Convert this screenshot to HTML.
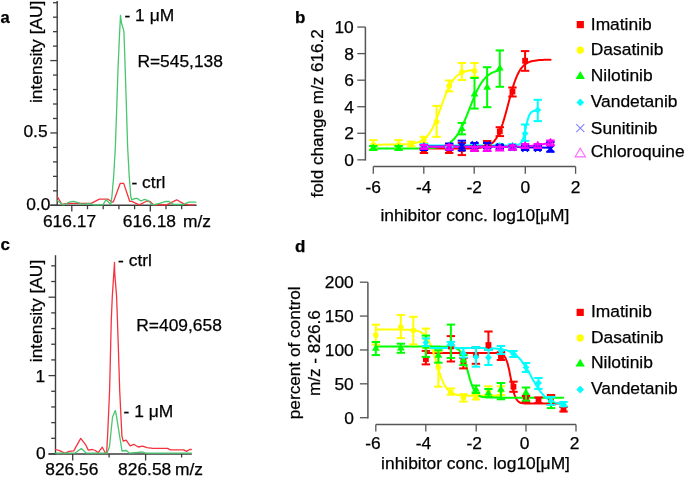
<!DOCTYPE html>
<html><head><meta charset="utf-8"><style>
html,body{margin:0;padding:0;background:#fff;overflow:hidden;}
svg{display:block;will-change:transform;}
text{font-family:"Liberation Sans", sans-serif;stroke:#000;stroke-width:0.25px;}
</style></head><body>
<svg width="685" height="477" viewBox="0 0 685 477">
<rect width="685" height="477" fill="#fff"/>
<text x="0.6" y="23.1" font-size="16.5" font-weight="bold" fill="#000">a</text>
<line x1="57.20" y1="1.00" x2="57.20" y2="205.60" stroke="#3c3c3c" stroke-width="1.4" stroke-linecap="butt"/>
<line x1="50.30" y1="205.30" x2="57.20" y2="205.30" stroke="#3c3c3c" stroke-width="1.3" stroke-linecap="butt"/>
<line x1="53.00" y1="190.83" x2="57.20" y2="190.83" stroke="#3c3c3c" stroke-width="1.3" stroke-linecap="butt"/>
<line x1="53.00" y1="176.36" x2="57.20" y2="176.36" stroke="#3c3c3c" stroke-width="1.3" stroke-linecap="butt"/>
<line x1="53.00" y1="161.89" x2="57.20" y2="161.89" stroke="#3c3c3c" stroke-width="1.3" stroke-linecap="butt"/>
<line x1="53.00" y1="147.42" x2="57.20" y2="147.42" stroke="#3c3c3c" stroke-width="1.3" stroke-linecap="butt"/>
<line x1="50.30" y1="132.95" x2="57.20" y2="132.95" stroke="#3c3c3c" stroke-width="1.3" stroke-linecap="butt"/>
<line x1="53.00" y1="118.48" x2="57.20" y2="118.48" stroke="#3c3c3c" stroke-width="1.3" stroke-linecap="butt"/>
<line x1="53.00" y1="104.01" x2="57.20" y2="104.01" stroke="#3c3c3c" stroke-width="1.3" stroke-linecap="butt"/>
<line x1="53.00" y1="89.54" x2="57.20" y2="89.54" stroke="#3c3c3c" stroke-width="1.3" stroke-linecap="butt"/>
<line x1="53.00" y1="75.07" x2="57.20" y2="75.07" stroke="#3c3c3c" stroke-width="1.3" stroke-linecap="butt"/>
<line x1="50.30" y1="60.60" x2="57.20" y2="60.60" stroke="#3c3c3c" stroke-width="1.3" stroke-linecap="butt"/>
<line x1="53.00" y1="46.13" x2="57.20" y2="46.13" stroke="#3c3c3c" stroke-width="1.3" stroke-linecap="butt"/>
<line x1="53.00" y1="31.66" x2="57.20" y2="31.66" stroke="#3c3c3c" stroke-width="1.3" stroke-linecap="butt"/>
<line x1="53.00" y1="17.19" x2="57.20" y2="17.19" stroke="#3c3c3c" stroke-width="1.3" stroke-linecap="butt"/>
<line x1="53.00" y1="2.72" x2="57.20" y2="2.72" stroke="#3c3c3c" stroke-width="1.3" stroke-linecap="butt"/>
<line x1="50.30" y1="205.30" x2="196.60" y2="205.30" stroke="#3c3c3c" stroke-width="1.4" stroke-linecap="butt"/>
<line x1="71.80" y1="205.30" x2="71.80" y2="211.60" stroke="#3c3c3c" stroke-width="1.3" stroke-linecap="butt"/>
<line x1="87.50" y1="205.30" x2="87.50" y2="209.30" stroke="#3c3c3c" stroke-width="1.3" stroke-linecap="butt"/>
<line x1="103.20" y1="205.30" x2="103.20" y2="209.30" stroke="#3c3c3c" stroke-width="1.3" stroke-linecap="butt"/>
<line x1="118.90" y1="205.30" x2="118.90" y2="209.30" stroke="#3c3c3c" stroke-width="1.3" stroke-linecap="butt"/>
<line x1="134.60" y1="205.30" x2="134.60" y2="209.30" stroke="#3c3c3c" stroke-width="1.3" stroke-linecap="butt"/>
<line x1="150.30" y1="205.30" x2="150.30" y2="211.60" stroke="#3c3c3c" stroke-width="1.3" stroke-linecap="butt"/>
<line x1="166.00" y1="205.30" x2="166.00" y2="209.30" stroke="#3c3c3c" stroke-width="1.3" stroke-linecap="butt"/>
<line x1="181.70" y1="205.30" x2="181.70" y2="209.30" stroke="#3c3c3c" stroke-width="1.3" stroke-linecap="butt"/>
<text x="23.4" y="137.4" font-size="17.4" fill="#000">0.5</text>
<text x="26.2" y="209.8" font-size="17.4" fill="#000">0.0</text>
<text x="42.95" y="226.5" font-size="17.4" fill="#000">616.17</text>
<text x="122.85" y="226.5" font-size="17.4" fill="#000">616.18</text>
<text x="183.0" y="226.5" font-size="17.4" fill="#000">m/z</text>
<text x="42.0" y="103" font-size="17.4" fill="#000" transform="rotate(-90 42.0 103)">intensity [AU]</text>
<text x="124.5" y="21.0" font-size="17.4" fill="#000">- 1 μM</text>
<text x="137.4" y="67.3" font-size="17.4" fill="#000">R=545,138</text>
<text x="131.5" y="188.4" font-size="17.4" fill="#000">- ctrl</text>
<polyline points="57.60,197.10 62.00,204.50 67.60,203.40 91.20,203.40 99.40,199.20 108.10,199.20 112.20,202.10 113.40,201.80 120.20,183.40 123.70,183.40 129.70,201.30 131.70,201.30 139.30,204.80 146.90,201.00 149.80,201.30 153.30,204.80 158.50,204.50 166.70,204.80 176.70,199.80 183.70,203.90 188.90,204.80 194.80,204.80" fill="none" stroke="#f5333f" stroke-width="1.3" stroke-linejoin="round" stroke-linecap="round"/>
<polyline points="57.50,200.60 62.60,204.80 64.30,204.70 69.00,202.20 73.70,201.30 78.00,202.60 81.90,204.10 85.00,204.20 88.90,203.50 93.50,204.80 102.90,204.80 106.00,199.80 110.80,204.50 111.90,196.70 113.70,176.00 115.40,146.00 117.00,100.00 118.00,69.00 119.50,35.00 120.50,15.30 121.40,22.60 123.90,31.40 124.50,48.00 125.20,69.00 126.20,100.00 127.60,146.00 129.20,176.00 130.80,196.70 131.70,199.80 135.20,198.30 137.50,198.50 141.00,201.00 144.50,199.40 148.00,200.60 152.10,204.60 155.00,204.50 159.70,203.30 166.10,201.30 169.00,201.50 173.70,204.50 183.10,204.50 188.90,202.10 195.90,202.10" fill="none" stroke="#47c66e" stroke-width="1.3" stroke-linejoin="round" stroke-linecap="round"/>
<text x="0.4" y="250" font-size="17" font-weight="bold" fill="#000">c</text>
<line x1="55.50" y1="255.20" x2="55.50" y2="454.30" stroke="#3c3c3c" stroke-width="1.4" stroke-linecap="butt"/>
<line x1="48.50" y1="454.00" x2="55.50" y2="454.00" stroke="#3c3c3c" stroke-width="1.3" stroke-linecap="butt"/>
<line x1="51.20" y1="438.32" x2="55.50" y2="438.32" stroke="#3c3c3c" stroke-width="1.3" stroke-linecap="butt"/>
<line x1="51.20" y1="422.64" x2="55.50" y2="422.64" stroke="#3c3c3c" stroke-width="1.3" stroke-linecap="butt"/>
<line x1="51.20" y1="406.96" x2="55.50" y2="406.96" stroke="#3c3c3c" stroke-width="1.3" stroke-linecap="butt"/>
<line x1="51.20" y1="391.28" x2="55.50" y2="391.28" stroke="#3c3c3c" stroke-width="1.3" stroke-linecap="butt"/>
<line x1="48.50" y1="375.60" x2="55.50" y2="375.60" stroke="#3c3c3c" stroke-width="1.3" stroke-linecap="butt"/>
<line x1="51.20" y1="359.92" x2="55.50" y2="359.92" stroke="#3c3c3c" stroke-width="1.3" stroke-linecap="butt"/>
<line x1="51.20" y1="344.24" x2="55.50" y2="344.24" stroke="#3c3c3c" stroke-width="1.3" stroke-linecap="butt"/>
<line x1="51.20" y1="328.56" x2="55.50" y2="328.56" stroke="#3c3c3c" stroke-width="1.3" stroke-linecap="butt"/>
<line x1="51.20" y1="312.88" x2="55.50" y2="312.88" stroke="#3c3c3c" stroke-width="1.3" stroke-linecap="butt"/>
<line x1="48.50" y1="297.20" x2="55.50" y2="297.20" stroke="#3c3c3c" stroke-width="1.3" stroke-linecap="butt"/>
<line x1="51.20" y1="281.52" x2="55.50" y2="281.52" stroke="#3c3c3c" stroke-width="1.3" stroke-linecap="butt"/>
<line x1="51.20" y1="265.84" x2="55.50" y2="265.84" stroke="#3c3c3c" stroke-width="1.3" stroke-linecap="butt"/>
<line x1="48.50" y1="454.00" x2="191.80" y2="454.00" stroke="#3c3c3c" stroke-width="1.4" stroke-linecap="butt"/>
<line x1="72.70" y1="454.00" x2="72.70" y2="460.50" stroke="#3c3c3c" stroke-width="1.3" stroke-linecap="butt"/>
<line x1="109.10" y1="454.00" x2="109.10" y2="457.50" stroke="#3c3c3c" stroke-width="1.3" stroke-linecap="butt"/>
<line x1="145.60" y1="454.00" x2="145.60" y2="460.50" stroke="#3c3c3c" stroke-width="1.3" stroke-linecap="butt"/>
<line x1="181.60" y1="454.00" x2="181.60" y2="457.50" stroke="#3c3c3c" stroke-width="1.3" stroke-linecap="butt"/>
<text x="35.6" y="382" font-size="17.4" fill="#000">1</text>
<text x="35.9" y="458.7" font-size="17.4" fill="#000">0</text>
<text x="45.25" y="474.7" font-size="17.4" fill="#000">826.56</text>
<text x="118.1" y="474.7" font-size="17.4" fill="#000">826.58</text>
<text x="174.95" y="474.7" font-size="17.4" fill="#000">m/z</text>
<text x="41.7" y="362.2" font-size="17.4" fill="#000" transform="rotate(-90 41.7 362.2)">intensity [AU]</text>
<text x="118.1" y="266" font-size="17.4" fill="#000">- ctrl</text>
<text x="123.6" y="417.2" font-size="17.4" fill="#000">- 1 μM</text>
<text x="136.25" y="331.2" font-size="17.4" fill="#000">R=409,658</text>
<polyline points="55.60,449.50 59.70,450.70 64.90,453.40 69.00,451.30 73.70,450.90 80.70,438.40 85.40,444.30 88.30,450.10 92.40,449.50 95.30,450.50 98.20,452.70 102.30,447.20 105.20,452.80 106.60,453.00 107.60,435.80 109.60,390.40 110.80,340.00 111.30,319.20 112.30,296.50 114.50,262.50 114.70,272.90 116.60,296.50 117.40,319.20 118.10,340.00 119.70,390.40 121.90,435.80 123.20,441.20 126.20,440.20 130.10,445.80 133.80,444.30 138.20,447.00 142.60,446.10 147.00,447.60 152.90,448.40 167.50,448.40 170.50,449.90 183.70,449.90 186.60,451.40 189.60,449.50 191.30,449.50" fill="none" stroke="#f5333f" stroke-width="1.3" stroke-linejoin="round" stroke-linecap="round"/>
<polyline points="55.60,453.20 74.90,453.20 81.30,448.40 86.50,453.20 107.00,453.20 109.50,446.50 112.50,417.20 114.00,413.50 115.40,410.60 116.40,415.70 119.10,432.60 122.00,451.00 126.40,450.50 129.40,453.20 142.60,452.00 145.50,453.20 191.30,453.20" fill="none" stroke="#47c66e" stroke-width="1.3" stroke-linejoin="round" stroke-linecap="round"/>
<text x="294.9" y="23.4" font-size="17" font-weight="bold" fill="#000">b</text>
<line x1="365.40" y1="27.05" x2="365.40" y2="160.55" stroke="#555555" stroke-width="1.5" stroke-linecap="butt"/>
<line x1="357.30" y1="159.85" x2="365.40" y2="159.85" stroke="#555555" stroke-width="1.3" stroke-linecap="butt"/>
<text x="353.8" y="165.85" font-size="17.4" text-anchor="end" fill="#000">0</text>
<line x1="357.30" y1="133.29" x2="365.40" y2="133.29" stroke="#555555" stroke-width="1.3" stroke-linecap="butt"/>
<text x="353.8" y="139.29" font-size="17.4" text-anchor="end" fill="#000">2</text>
<line x1="357.30" y1="106.73" x2="365.40" y2="106.73" stroke="#555555" stroke-width="1.3" stroke-linecap="butt"/>
<text x="353.8" y="112.72999999999999" font-size="17.4" text-anchor="end" fill="#000">4</text>
<line x1="357.30" y1="80.17" x2="365.40" y2="80.17" stroke="#555555" stroke-width="1.3" stroke-linecap="butt"/>
<text x="353.8" y="86.17" font-size="17.4" text-anchor="end" fill="#000">6</text>
<line x1="357.30" y1="53.61" x2="365.40" y2="53.61" stroke="#555555" stroke-width="1.3" stroke-linecap="butt"/>
<text x="353.8" y="59.61" font-size="17.4" text-anchor="end" fill="#000">8</text>
<line x1="357.30" y1="27.05" x2="365.40" y2="27.05" stroke="#555555" stroke-width="1.3" stroke-linecap="butt"/>
<text x="353.8" y="33.05000000000001" font-size="17.4" text-anchor="end" fill="#000">10</text>
<line x1="373.30" y1="166.60" x2="575.60" y2="166.60" stroke="#555555" stroke-width="1.5" stroke-linecap="butt"/>
<line x1="373.30" y1="166.60" x2="373.30" y2="173.80" stroke="#555555" stroke-width="1.3" stroke-linecap="butt"/>
<text x="373.3" y="193" font-size="17.4" text-anchor="middle" fill="#000">-6</text>
<line x1="423.80" y1="166.60" x2="423.80" y2="173.80" stroke="#555555" stroke-width="1.3" stroke-linecap="butt"/>
<text x="423.8" y="193" font-size="17.4" text-anchor="middle" fill="#000">-4</text>
<line x1="474.20" y1="166.60" x2="474.20" y2="173.80" stroke="#555555" stroke-width="1.3" stroke-linecap="butt"/>
<text x="474.2" y="193" font-size="17.4" text-anchor="middle" fill="#000">-2</text>
<line x1="525.30" y1="166.60" x2="525.30" y2="173.80" stroke="#555555" stroke-width="1.3" stroke-linecap="butt"/>
<text x="525.3" y="193" font-size="17.4" text-anchor="middle" fill="#000">0</text>
<line x1="575.60" y1="166.60" x2="575.60" y2="173.80" stroke="#555555" stroke-width="1.3" stroke-linecap="butt"/>
<text x="575.6" y="193" font-size="17.4" text-anchor="middle" fill="#000">2</text>
<text x="323.4" y="197.4" font-size="17.1" fill="#000" transform="rotate(-90 323.4 197.4)">fold change m/z 616.2</text>
<text x="380.5" y="221.2" font-size="17.4" fill="#000">inhibitor conc. log10[μM]</text>
<polyline points="424.10,148.49 425.70,148.49 427.30,148.49 428.90,148.49 430.51,148.49 432.11,148.49 433.71,148.49 435.31,148.49 436.91,148.49 438.51,148.49 440.11,148.49 441.71,148.49 443.32,148.49 444.92,148.49 446.52,148.49 448.12,148.49 449.72,148.49 451.32,148.48 452.92,148.48 454.52,148.48 456.13,148.48 457.73,148.47 459.33,148.47 460.93,148.46 462.53,148.46 464.13,148.44 465.73,148.43 467.33,148.41 468.94,148.39 470.54,148.35 472.14,148.31 473.74,148.25 475.34,148.18 476.94,148.08 478.54,147.95 480.14,147.78 481.75,147.55 483.35,147.26 484.95,146.88 486.55,146.38 488.15,145.73 489.75,144.90 491.35,143.82 492.95,142.45 494.56,140.70 496.16,138.51 497.76,135.81 499.36,132.52 500.96,128.60 502.56,124.04 504.16,118.88 505.76,113.24 507.37,107.26 508.97,101.17 510.57,95.19 512.17,89.52 513.77,84.34 515.37,79.76 516.97,75.81 518.57,72.49 520.18,69.77 521.78,67.56 523.38,65.80 524.98,64.41 526.58,63.32 528.18,62.48 529.78,61.82 531.38,61.32 532.99,60.93 534.59,60.64 536.19,60.41 537.79,60.24 539.39,60.11 540.99,60.01 542.59,59.93 544.19,59.87 545.80,59.83 547.40,59.80 549.00,59.77 550.60,59.75" fill="none" stroke="#ff0000" stroke-width="2.0" stroke-linejoin="round" stroke-linecap="round"/>
<polyline points="373.50,144.64 374.78,144.64 376.06,144.64 377.34,144.63 378.62,144.63 379.91,144.63 381.19,144.63 382.47,144.63 383.75,144.62 385.03,144.62 386.31,144.62 387.59,144.61 388.87,144.61 390.15,144.60 391.43,144.59 392.72,144.58 394.00,144.57 395.28,144.55 396.56,144.54 397.84,144.52 399.12,144.49 400.40,144.46 401.68,144.42 402.96,144.37 404.24,144.32 405.53,144.25 406.81,144.17 408.09,144.08 409.37,143.96 410.65,143.82 411.93,143.65 413.21,143.44 414.49,143.20 415.77,142.90 417.05,142.55 418.34,142.12 419.62,141.62 420.90,141.02 422.18,140.30 423.46,139.46 424.74,138.46 426.02,137.30 427.30,135.94 428.58,134.37 429.86,132.56 431.15,130.51 432.43,128.20 433.71,125.63 434.99,122.80 436.27,119.75 437.55,116.49 438.83,113.07 440.11,109.54 441.39,105.98 442.67,102.43 443.96,98.96 445.24,95.63 446.52,92.48 447.80,89.56 449.08,86.88 450.36,84.47 451.64,82.31 452.92,80.40 454.20,78.74 455.48,77.30 456.77,76.05 458.05,74.99 459.33,74.09 460.61,73.32 461.89,72.67 463.17,72.13 464.45,71.68 465.73,71.30 467.01,70.98 468.29,70.71 469.58,70.49 470.86,70.31 472.14,70.16 473.42,70.03 474.70,69.93" fill="none" stroke="#ffff00" stroke-width="2.0" stroke-linejoin="round" stroke-linecap="round"/>
<polyline points="373.50,148.57 375.10,148.57 376.70,148.57 378.30,148.57 379.91,148.57 381.51,148.57 383.11,148.57 384.71,148.57 386.31,148.57 387.91,148.57 389.51,148.57 391.11,148.57 392.72,148.57 394.32,148.57 395.92,148.56 397.52,148.56 399.12,148.56 400.72,148.56 402.32,148.56 403.92,148.55 405.53,148.55 407.13,148.54 408.73,148.54 410.33,148.53 411.93,148.52 413.53,148.51 415.13,148.50 416.73,148.48 418.34,148.46 419.94,148.44 421.54,148.41 423.14,148.37 424.74,148.32 426.34,148.27 427.94,148.20 429.54,148.11 431.15,148.01 432.75,147.88 434.35,147.73 435.95,147.53 437.55,147.30 439.15,147.01 440.75,146.66 442.35,146.24 443.96,145.72 445.56,145.10 447.16,144.34 448.76,143.43 450.36,142.35 451.96,141.05 453.56,139.52 455.16,137.72 456.77,135.64 458.37,133.24 459.97,130.51 461.57,127.46 463.17,124.10 464.77,120.45 466.37,116.58 467.97,112.55 469.58,108.43 471.18,104.32 472.78,100.30 474.38,96.45 475.98,92.83 477.58,89.50 479.18,86.48 480.78,83.79 482.39,81.42 483.99,79.36 485.59,77.59 487.19,76.08 488.79,74.81 490.39,73.74 491.99,72.85 493.59,72.11 495.20,71.49 496.80,70.99 498.40,70.57 500.00,70.23" fill="none" stroke="#00ff00" stroke-width="2.0" stroke-linejoin="round" stroke-linecap="round"/>
<polyline points="424.10,145.60 425.54,145.60 426.98,145.60 428.42,145.60 429.86,145.60 431.31,145.60 432.75,145.60 434.19,145.60 435.63,145.60 437.07,145.60 438.51,145.60 439.95,145.60 441.39,145.60 442.83,145.60 444.28,145.60 445.72,145.60 447.16,145.60 448.60,145.60 450.04,145.60 451.48,145.60 452.92,145.60 454.36,145.60 455.81,145.60 457.25,145.60 458.69,145.60 460.13,145.60 461.57,145.60 463.01,145.60 464.45,145.60 465.89,145.60 467.33,145.60 468.78,145.60 470.22,145.60 471.66,145.60 473.10,145.60 474.54,145.60 475.98,145.60 477.42,145.60 478.86,145.60 480.30,145.60 481.75,145.60 483.19,145.60 484.63,145.60 486.07,145.60 487.51,145.60 488.95,145.60 490.39,145.60 491.83,145.60 493.27,145.60 494.72,145.60 496.16,145.60 497.60,145.60 499.04,145.60 500.48,145.60 501.92,145.60 503.36,145.60 504.80,145.60 506.24,145.60 507.69,145.60 509.13,145.59 510.57,145.59 512.01,145.57 513.45,145.55 514.89,145.49 516.33,145.36 517.77,145.08 519.22,144.51 520.66,143.35 522.10,141.12 523.54,137.23 524.98,131.51 526.42,124.91 527.86,119.09 529.30,115.09 530.74,112.77 532.19,111.56 533.63,110.96 535.07,110.68 536.51,110.54 537.95,110.48" fill="none" stroke="#00ffff" stroke-width="2.0" stroke-linejoin="round" stroke-linecap="round"/>
<polyline points="423.90,146.60 499.80,146.60 525.10,147.30 550.40,147.80" fill="none" stroke="#0000ff" stroke-width="2.0" stroke-linejoin="round" stroke-linecap="round"/>
<polyline points="423.90,146.80 499.80,146.80 525.10,146.60 537.75,145.20 550.40,142.80" fill="none" stroke="#ff00ff" stroke-width="2.0" stroke-linejoin="round" stroke-linecap="round"/>
<line x1="423.90" y1="148.00" x2="423.90" y2="153.00" stroke="#ff0000" stroke-width="2.0" stroke-linecap="butt"/>
<line x1="419.70" y1="148.00" x2="428.10" y2="148.00" stroke="#ff0000" stroke-width="2.0" stroke-linecap="butt"/>
<line x1="419.70" y1="153.00" x2="428.10" y2="153.00" stroke="#ff0000" stroke-width="2.0" stroke-linecap="butt"/>
<rect x="421.00" y="147.80" width="5.80" height="5.80" fill="#ff0000"/>
<line x1="449.20" y1="146.00" x2="449.20" y2="153.00" stroke="#ff0000" stroke-width="2.0" stroke-linecap="butt"/>
<line x1="445.00" y1="146.00" x2="453.40" y2="146.00" stroke="#ff0000" stroke-width="2.0" stroke-linecap="butt"/>
<line x1="445.00" y1="153.00" x2="453.40" y2="153.00" stroke="#ff0000" stroke-width="2.0" stroke-linecap="butt"/>
<rect x="446.30" y="147.10" width="5.80" height="5.80" fill="#ff0000"/>
<line x1="461.85" y1="143.00" x2="461.85" y2="155.10" stroke="#ff0000" stroke-width="2.0" stroke-linecap="butt"/>
<line x1="457.65" y1="143.00" x2="466.05" y2="143.00" stroke="#ff0000" stroke-width="2.0" stroke-linecap="butt"/>
<line x1="457.65" y1="155.10" x2="466.05" y2="155.10" stroke="#ff0000" stroke-width="2.0" stroke-linecap="butt"/>
<rect x="458.95" y="146.10" width="5.80" height="5.80" fill="#ff0000"/>
<line x1="474.50" y1="146.00" x2="474.50" y2="151.00" stroke="#ff0000" stroke-width="2.0" stroke-linecap="butt"/>
<line x1="470.30" y1="146.00" x2="478.70" y2="146.00" stroke="#ff0000" stroke-width="2.0" stroke-linecap="butt"/>
<line x1="470.30" y1="151.00" x2="478.70" y2="151.00" stroke="#ff0000" stroke-width="2.0" stroke-linecap="butt"/>
<rect x="471.60" y="145.60" width="5.80" height="5.80" fill="#ff0000"/>
<line x1="487.15" y1="141.00" x2="487.15" y2="146.00" stroke="#ff0000" stroke-width="2.0" stroke-linecap="butt"/>
<line x1="482.95" y1="141.00" x2="491.35" y2="141.00" stroke="#ff0000" stroke-width="2.0" stroke-linecap="butt"/>
<line x1="482.95" y1="146.00" x2="491.35" y2="146.00" stroke="#ff0000" stroke-width="2.0" stroke-linecap="butt"/>
<rect x="484.25" y="140.90" width="5.80" height="5.80" fill="#ff0000"/>
<line x1="499.80" y1="127.20" x2="499.80" y2="136.10" stroke="#ff0000" stroke-width="2.0" stroke-linecap="butt"/>
<line x1="495.60" y1="127.20" x2="504.00" y2="127.20" stroke="#ff0000" stroke-width="2.0" stroke-linecap="butt"/>
<line x1="495.60" y1="136.10" x2="504.00" y2="136.10" stroke="#ff0000" stroke-width="2.0" stroke-linecap="butt"/>
<rect x="496.90" y="128.40" width="5.80" height="5.80" fill="#ff0000"/>
<line x1="512.45" y1="87.50" x2="512.45" y2="96.50" stroke="#ff0000" stroke-width="2.0" stroke-linecap="butt"/>
<line x1="508.25" y1="87.50" x2="516.65" y2="87.50" stroke="#ff0000" stroke-width="2.0" stroke-linecap="butt"/>
<line x1="508.25" y1="96.50" x2="516.65" y2="96.50" stroke="#ff0000" stroke-width="2.0" stroke-linecap="butt"/>
<rect x="509.55" y="88.60" width="5.80" height="5.80" fill="#ff0000"/>
<line x1="525.10" y1="51.10" x2="525.10" y2="70.80" stroke="#ff0000" stroke-width="2.0" stroke-linecap="butt"/>
<line x1="520.90" y1="51.10" x2="529.30" y2="51.10" stroke="#ff0000" stroke-width="2.0" stroke-linecap="butt"/>
<line x1="520.90" y1="70.80" x2="529.30" y2="70.80" stroke="#ff0000" stroke-width="2.0" stroke-linecap="butt"/>
<rect x="522.20" y="57.90" width="5.80" height="5.80" fill="#ff0000"/>
<line x1="373.30" y1="140.10" x2="373.30" y2="149.50" stroke="#ffff00" stroke-width="2.0" stroke-linecap="butt"/>
<line x1="369.10" y1="140.10" x2="377.50" y2="140.10" stroke="#ffff00" stroke-width="2.0" stroke-linecap="butt"/>
<line x1="369.10" y1="149.50" x2="377.50" y2="149.50" stroke="#ffff00" stroke-width="2.0" stroke-linecap="butt"/>
<circle cx="373.30" cy="144.80" r="2.80" fill="#ffff00"/>
<line x1="398.60" y1="140.10" x2="398.60" y2="149.50" stroke="#ffff00" stroke-width="2.0" stroke-linecap="butt"/>
<line x1="394.40" y1="140.10" x2="402.80" y2="140.10" stroke="#ffff00" stroke-width="2.0" stroke-linecap="butt"/>
<line x1="394.40" y1="149.50" x2="402.80" y2="149.50" stroke="#ffff00" stroke-width="2.0" stroke-linecap="butt"/>
<circle cx="398.60" cy="144.80" r="2.80" fill="#ffff00"/>
<line x1="411.25" y1="141.60" x2="411.25" y2="146.30" stroke="#ffff00" stroke-width="2.0" stroke-linecap="butt"/>
<line x1="407.05" y1="141.60" x2="415.45" y2="141.60" stroke="#ffff00" stroke-width="2.0" stroke-linecap="butt"/>
<line x1="407.05" y1="146.30" x2="415.45" y2="146.30" stroke="#ffff00" stroke-width="2.0" stroke-linecap="butt"/>
<circle cx="411.25" cy="143.90" r="2.80" fill="#ffff00"/>
<line x1="423.90" y1="136.80" x2="423.90" y2="143.00" stroke="#ffff00" stroke-width="2.0" stroke-linecap="butt"/>
<line x1="419.70" y1="136.80" x2="428.10" y2="136.80" stroke="#ffff00" stroke-width="2.0" stroke-linecap="butt"/>
<line x1="419.70" y1="143.00" x2="428.10" y2="143.00" stroke="#ffff00" stroke-width="2.0" stroke-linecap="butt"/>
<circle cx="423.90" cy="139.80" r="2.80" fill="#ffff00"/>
<line x1="436.55" y1="105.90" x2="436.55" y2="136.80" stroke="#ffff00" stroke-width="2.0" stroke-linecap="butt"/>
<line x1="432.35" y1="105.90" x2="440.75" y2="105.90" stroke="#ffff00" stroke-width="2.0" stroke-linecap="butt"/>
<line x1="432.35" y1="136.80" x2="440.75" y2="136.80" stroke="#ffff00" stroke-width="2.0" stroke-linecap="butt"/>
<circle cx="436.55" cy="121.80" r="2.80" fill="#ffff00"/>
<line x1="449.20" y1="80.50" x2="449.20" y2="91.30" stroke="#ffff00" stroke-width="2.0" stroke-linecap="butt"/>
<line x1="445.00" y1="80.50" x2="453.40" y2="80.50" stroke="#ffff00" stroke-width="2.0" stroke-linecap="butt"/>
<line x1="445.00" y1="91.30" x2="453.40" y2="91.30" stroke="#ffff00" stroke-width="2.0" stroke-linecap="butt"/>
<circle cx="449.20" cy="85.90" r="2.80" fill="#ffff00"/>
<line x1="461.85" y1="63.00" x2="461.85" y2="80.00" stroke="#ffff00" stroke-width="2.0" stroke-linecap="butt"/>
<line x1="457.65" y1="63.00" x2="466.05" y2="63.00" stroke="#ffff00" stroke-width="2.0" stroke-linecap="butt"/>
<line x1="457.65" y1="80.00" x2="466.05" y2="80.00" stroke="#ffff00" stroke-width="2.0" stroke-linecap="butt"/>
<circle cx="461.85" cy="72.00" r="2.80" fill="#ffff00"/>
<line x1="474.50" y1="63.00" x2="474.50" y2="76.90" stroke="#ffff00" stroke-width="2.0" stroke-linecap="butt"/>
<line x1="470.30" y1="63.00" x2="478.70" y2="63.00" stroke="#ffff00" stroke-width="2.0" stroke-linecap="butt"/>
<line x1="470.30" y1="76.90" x2="478.70" y2="76.90" stroke="#ffff00" stroke-width="2.0" stroke-linecap="butt"/>
<circle cx="474.50" cy="71.00" r="2.80" fill="#ffff00"/>
<line x1="373.30" y1="146.00" x2="373.30" y2="150.00" stroke="#00ff00" stroke-width="2.0" stroke-linecap="butt"/>
<line x1="369.10" y1="146.00" x2="377.50" y2="146.00" stroke="#00ff00" stroke-width="2.0" stroke-linecap="butt"/>
<line x1="369.10" y1="150.00" x2="377.50" y2="150.00" stroke="#00ff00" stroke-width="2.0" stroke-linecap="butt"/>
<polygon points="373.30,143.40 377.19,149.96 369.41,149.96" fill="#00ff00"/>
<line x1="398.60" y1="146.00" x2="398.60" y2="150.00" stroke="#00ff00" stroke-width="2.0" stroke-linecap="butt"/>
<line x1="394.40" y1="146.00" x2="402.80" y2="146.00" stroke="#00ff00" stroke-width="2.0" stroke-linecap="butt"/>
<line x1="394.40" y1="150.00" x2="402.80" y2="150.00" stroke="#00ff00" stroke-width="2.0" stroke-linecap="butt"/>
<polygon points="398.60,143.40 402.50,149.96 394.71,149.96" fill="#00ff00"/>
<line x1="449.20" y1="145.00" x2="449.20" y2="149.00" stroke="#00ff00" stroke-width="2.0" stroke-linecap="butt"/>
<line x1="445.00" y1="145.00" x2="453.40" y2="145.00" stroke="#00ff00" stroke-width="2.0" stroke-linecap="butt"/>
<line x1="445.00" y1="149.00" x2="453.40" y2="149.00" stroke="#00ff00" stroke-width="2.0" stroke-linecap="butt"/>
<polygon points="449.20,142.40 453.10,148.96 445.31,148.96" fill="#00ff00"/>
<line x1="461.85" y1="122.90" x2="461.85" y2="134.40" stroke="#00ff00" stroke-width="2.0" stroke-linecap="butt"/>
<line x1="457.65" y1="122.90" x2="466.05" y2="122.90" stroke="#00ff00" stroke-width="2.0" stroke-linecap="butt"/>
<line x1="457.65" y1="134.40" x2="466.05" y2="134.40" stroke="#00ff00" stroke-width="2.0" stroke-linecap="butt"/>
<polygon points="461.85,124.50 465.75,131.06 457.96,131.06" fill="#00ff00"/>
<line x1="474.50" y1="78.00" x2="474.50" y2="108.60" stroke="#00ff00" stroke-width="2.0" stroke-linecap="butt"/>
<line x1="470.30" y1="78.00" x2="478.70" y2="78.00" stroke="#00ff00" stroke-width="2.0" stroke-linecap="butt"/>
<line x1="470.30" y1="108.60" x2="478.70" y2="108.60" stroke="#00ff00" stroke-width="2.0" stroke-linecap="butt"/>
<polygon points="474.50,90.00 478.39,96.56 470.61,96.56" fill="#00ff00"/>
<line x1="487.15" y1="67.20" x2="487.15" y2="107.20" stroke="#00ff00" stroke-width="2.0" stroke-linecap="butt"/>
<line x1="482.95" y1="67.20" x2="491.35" y2="67.20" stroke="#00ff00" stroke-width="2.0" stroke-linecap="butt"/>
<line x1="482.95" y1="107.20" x2="491.35" y2="107.20" stroke="#00ff00" stroke-width="2.0" stroke-linecap="butt"/>
<polygon points="487.15,83.10 491.05,89.66 483.26,89.66" fill="#00ff00"/>
<line x1="499.80" y1="50.40" x2="499.80" y2="86.80" stroke="#00ff00" stroke-width="2.0" stroke-linecap="butt"/>
<line x1="495.60" y1="50.40" x2="504.00" y2="50.40" stroke="#00ff00" stroke-width="2.0" stroke-linecap="butt"/>
<line x1="495.60" y1="86.80" x2="504.00" y2="86.80" stroke="#00ff00" stroke-width="2.0" stroke-linecap="butt"/>
<polygon points="499.80,64.00 503.69,70.56 495.91,70.56" fill="#00ff00"/>
<line x1="423.90" y1="144.00" x2="423.90" y2="147.00" stroke="#00ffff" stroke-width="2.0" stroke-linecap="butt"/>
<line x1="419.70" y1="144.00" x2="428.10" y2="144.00" stroke="#00ffff" stroke-width="2.0" stroke-linecap="butt"/>
<line x1="419.70" y1="147.00" x2="428.10" y2="147.00" stroke="#00ffff" stroke-width="2.0" stroke-linecap="butt"/>
<polygon points="423.90,142.10 427.30,145.50 423.90,148.90 420.50,145.50" fill="#00ffff"/>
<line x1="449.20" y1="144.00" x2="449.20" y2="147.00" stroke="#00ffff" stroke-width="2.0" stroke-linecap="butt"/>
<line x1="445.00" y1="144.00" x2="453.40" y2="144.00" stroke="#00ffff" stroke-width="2.0" stroke-linecap="butt"/>
<line x1="445.00" y1="147.00" x2="453.40" y2="147.00" stroke="#00ffff" stroke-width="2.0" stroke-linecap="butt"/>
<polygon points="449.20,142.10 452.60,145.50 449.20,148.90 445.80,145.50" fill="#00ffff"/>
<line x1="474.50" y1="144.00" x2="474.50" y2="147.00" stroke="#00ffff" stroke-width="2.0" stroke-linecap="butt"/>
<line x1="470.30" y1="144.00" x2="478.70" y2="144.00" stroke="#00ffff" stroke-width="2.0" stroke-linecap="butt"/>
<line x1="470.30" y1="147.00" x2="478.70" y2="147.00" stroke="#00ffff" stroke-width="2.0" stroke-linecap="butt"/>
<polygon points="474.50,142.10 477.90,145.50 474.50,148.90 471.10,145.50" fill="#00ffff"/>
<line x1="499.80" y1="144.00" x2="499.80" y2="147.00" stroke="#00ffff" stroke-width="2.0" stroke-linecap="butt"/>
<line x1="495.60" y1="144.00" x2="504.00" y2="144.00" stroke="#00ffff" stroke-width="2.0" stroke-linecap="butt"/>
<line x1="495.60" y1="147.00" x2="504.00" y2="147.00" stroke="#00ffff" stroke-width="2.0" stroke-linecap="butt"/>
<polygon points="499.80,141.90 503.20,145.30 499.80,148.70 496.40,145.30" fill="#00ffff"/>
<line x1="512.45" y1="144.00" x2="512.45" y2="147.00" stroke="#00ffff" stroke-width="2.0" stroke-linecap="butt"/>
<line x1="508.25" y1="144.00" x2="516.65" y2="144.00" stroke="#00ffff" stroke-width="2.0" stroke-linecap="butt"/>
<line x1="508.25" y1="147.00" x2="516.65" y2="147.00" stroke="#00ffff" stroke-width="2.0" stroke-linecap="butt"/>
<polygon points="512.45,141.90 515.85,145.30 512.45,148.70 509.05,145.30" fill="#00ffff"/>
<line x1="525.10" y1="124.50" x2="525.10" y2="140.90" stroke="#00ffff" stroke-width="2.0" stroke-linecap="butt"/>
<line x1="520.90" y1="124.50" x2="529.30" y2="124.50" stroke="#00ffff" stroke-width="2.0" stroke-linecap="butt"/>
<line x1="520.90" y1="140.90" x2="529.30" y2="140.90" stroke="#00ffff" stroke-width="2.0" stroke-linecap="butt"/>
<polygon points="525.10,130.00 528.50,133.40 525.10,136.80 521.70,133.40" fill="#00ffff"/>
<line x1="537.75" y1="99.80" x2="537.75" y2="121.10" stroke="#00ffff" stroke-width="2.0" stroke-linecap="butt"/>
<line x1="533.55" y1="99.80" x2="541.95" y2="99.80" stroke="#00ffff" stroke-width="2.0" stroke-linecap="butt"/>
<line x1="533.55" y1="121.10" x2="541.95" y2="121.10" stroke="#00ffff" stroke-width="2.0" stroke-linecap="butt"/>
<polygon points="537.75,106.60 541.15,110.00 537.75,113.40 534.35,110.00" fill="#00ffff"/>
<line x1="423.90" y1="145.00" x2="423.90" y2="150.00" stroke="#0000ff" stroke-width="2.0" stroke-linecap="butt"/>
<line x1="419.70" y1="145.00" x2="428.10" y2="145.00" stroke="#0000ff" stroke-width="2.0" stroke-linecap="butt"/>
<line x1="419.70" y1="150.00" x2="428.10" y2="150.00" stroke="#0000ff" stroke-width="2.0" stroke-linecap="butt"/>
<path d="M420.90,144.50L426.90,150.50M426.90,144.50L420.90,150.50" stroke="#0000ff" stroke-width="2.0" fill="none"/>
<line x1="449.20" y1="143.50" x2="449.20" y2="150.00" stroke="#0000ff" stroke-width="2.0" stroke-linecap="butt"/>
<line x1="445.00" y1="143.50" x2="453.40" y2="143.50" stroke="#0000ff" stroke-width="2.0" stroke-linecap="butt"/>
<line x1="445.00" y1="150.00" x2="453.40" y2="150.00" stroke="#0000ff" stroke-width="2.0" stroke-linecap="butt"/>
<path d="M446.20,144.00L452.20,150.00M452.20,144.00L446.20,150.00" stroke="#0000ff" stroke-width="2.0" fill="none"/>
<line x1="461.85" y1="140.70" x2="461.85" y2="150.50" stroke="#0000ff" stroke-width="2.0" stroke-linecap="butt"/>
<line x1="457.65" y1="140.70" x2="466.05" y2="140.70" stroke="#0000ff" stroke-width="2.0" stroke-linecap="butt"/>
<line x1="457.65" y1="150.50" x2="466.05" y2="150.50" stroke="#0000ff" stroke-width="2.0" stroke-linecap="butt"/>
<path d="M458.85,143.00L464.85,149.00M464.85,143.00L458.85,149.00" stroke="#0000ff" stroke-width="2.0" fill="none"/>
<line x1="474.50" y1="143.00" x2="474.50" y2="148.00" stroke="#0000ff" stroke-width="2.0" stroke-linecap="butt"/>
<line x1="470.30" y1="143.00" x2="478.70" y2="143.00" stroke="#0000ff" stroke-width="2.0" stroke-linecap="butt"/>
<line x1="470.30" y1="148.00" x2="478.70" y2="148.00" stroke="#0000ff" stroke-width="2.0" stroke-linecap="butt"/>
<path d="M471.50,141.50L477.50,147.50M477.50,141.50L471.50,147.50" stroke="#0000ff" stroke-width="2.0" fill="none"/>
<line x1="487.15" y1="143.00" x2="487.15" y2="148.00" stroke="#0000ff" stroke-width="2.0" stroke-linecap="butt"/>
<line x1="482.95" y1="143.00" x2="491.35" y2="143.00" stroke="#0000ff" stroke-width="2.0" stroke-linecap="butt"/>
<line x1="482.95" y1="148.00" x2="491.35" y2="148.00" stroke="#0000ff" stroke-width="2.0" stroke-linecap="butt"/>
<path d="M484.15,141.80L490.15,147.80M490.15,141.80L484.15,147.80" stroke="#0000ff" stroke-width="2.0" fill="none"/>
<line x1="499.80" y1="145.00" x2="499.80" y2="149.00" stroke="#0000ff" stroke-width="2.0" stroke-linecap="butt"/>
<line x1="495.60" y1="145.00" x2="504.00" y2="145.00" stroke="#0000ff" stroke-width="2.0" stroke-linecap="butt"/>
<line x1="495.60" y1="149.00" x2="504.00" y2="149.00" stroke="#0000ff" stroke-width="2.0" stroke-linecap="butt"/>
<path d="M496.80,143.50L502.80,149.50M502.80,143.50L496.80,149.50" stroke="#0000ff" stroke-width="2.0" fill="none"/>
<line x1="512.45" y1="146.00" x2="512.45" y2="149.50" stroke="#0000ff" stroke-width="2.0" stroke-linecap="butt"/>
<line x1="508.25" y1="146.00" x2="516.65" y2="146.00" stroke="#0000ff" stroke-width="2.0" stroke-linecap="butt"/>
<line x1="508.25" y1="149.50" x2="516.65" y2="149.50" stroke="#0000ff" stroke-width="2.0" stroke-linecap="butt"/>
<path d="M509.45,144.50L515.45,150.50M515.45,144.50L509.45,150.50" stroke="#0000ff" stroke-width="2.0" fill="none"/>
<line x1="525.10" y1="146.00" x2="525.10" y2="150.00" stroke="#0000ff" stroke-width="2.0" stroke-linecap="butt"/>
<line x1="520.90" y1="146.00" x2="529.30" y2="146.00" stroke="#0000ff" stroke-width="2.0" stroke-linecap="butt"/>
<line x1="520.90" y1="150.00" x2="529.30" y2="150.00" stroke="#0000ff" stroke-width="2.0" stroke-linecap="butt"/>
<path d="M522.10,145.50L528.10,151.50M528.10,145.50L522.10,151.50" stroke="#0000ff" stroke-width="2.0" fill="none"/>
<line x1="537.75" y1="146.00" x2="537.75" y2="150.00" stroke="#0000ff" stroke-width="2.0" stroke-linecap="butt"/>
<line x1="533.55" y1="146.00" x2="541.95" y2="146.00" stroke="#0000ff" stroke-width="2.0" stroke-linecap="butt"/>
<line x1="533.55" y1="150.00" x2="541.95" y2="150.00" stroke="#0000ff" stroke-width="2.0" stroke-linecap="butt"/>
<path d="M534.75,145.50L540.75,151.50M540.75,145.50L534.75,151.50" stroke="#0000ff" stroke-width="2.0" fill="none"/>
<line x1="550.40" y1="142.20" x2="550.40" y2="151.80" stroke="#0000ff" stroke-width="2.0" stroke-linecap="butt"/>
<line x1="546.20" y1="142.20" x2="554.60" y2="142.20" stroke="#0000ff" stroke-width="2.0" stroke-linecap="butt"/>
<line x1="546.20" y1="151.80" x2="554.60" y2="151.80" stroke="#0000ff" stroke-width="2.0" stroke-linecap="butt"/>
<path d="M547.40,145.80L553.40,151.80M553.40,145.80L547.40,151.80" stroke="#0000ff" stroke-width="2.0" fill="none"/>
<line x1="423.90" y1="145.00" x2="423.90" y2="148.50" stroke="#ff00ff" stroke-width="2.0" stroke-linecap="butt"/>
<line x1="419.70" y1="145.00" x2="428.10" y2="145.00" stroke="#ff00ff" stroke-width="2.0" stroke-linecap="butt"/>
<line x1="419.70" y1="148.50" x2="428.10" y2="148.50" stroke="#ff00ff" stroke-width="2.0" stroke-linecap="butt"/>
<polygon points="423.90,142.90 427.61,149.14 420.20,149.14" fill="none" stroke="#ff00ff" stroke-width="1.3"/>
<line x1="449.20" y1="145.00" x2="449.20" y2="149.50" stroke="#ff00ff" stroke-width="2.0" stroke-linecap="butt"/>
<line x1="445.00" y1="145.00" x2="453.40" y2="145.00" stroke="#ff00ff" stroke-width="2.0" stroke-linecap="butt"/>
<line x1="445.00" y1="149.50" x2="453.40" y2="149.50" stroke="#ff00ff" stroke-width="2.0" stroke-linecap="butt"/>
<polygon points="449.20,143.40 452.91,149.64 445.50,149.64" fill="none" stroke="#ff00ff" stroke-width="1.3"/>
<line x1="474.50" y1="147.00" x2="474.50" y2="150.50" stroke="#ff00ff" stroke-width="2.0" stroke-linecap="butt"/>
<line x1="470.30" y1="147.00" x2="478.70" y2="147.00" stroke="#ff00ff" stroke-width="2.0" stroke-linecap="butt"/>
<line x1="470.30" y1="150.50" x2="478.70" y2="150.50" stroke="#ff00ff" stroke-width="2.0" stroke-linecap="butt"/>
<polygon points="474.50,144.90 478.20,151.14 470.80,151.14" fill="none" stroke="#ff00ff" stroke-width="1.3"/>
<line x1="487.15" y1="147.00" x2="487.15" y2="150.50" stroke="#ff00ff" stroke-width="2.0" stroke-linecap="butt"/>
<line x1="482.95" y1="147.00" x2="491.35" y2="147.00" stroke="#ff00ff" stroke-width="2.0" stroke-linecap="butt"/>
<line x1="482.95" y1="150.50" x2="491.35" y2="150.50" stroke="#ff00ff" stroke-width="2.0" stroke-linecap="butt"/>
<polygon points="487.15,145.10 490.86,151.34 483.45,151.34" fill="none" stroke="#ff00ff" stroke-width="1.3"/>
<line x1="499.80" y1="147.00" x2="499.80" y2="150.00" stroke="#ff00ff" stroke-width="2.0" stroke-linecap="butt"/>
<line x1="495.60" y1="147.00" x2="504.00" y2="147.00" stroke="#ff00ff" stroke-width="2.0" stroke-linecap="butt"/>
<line x1="495.60" y1="150.00" x2="504.00" y2="150.00" stroke="#ff00ff" stroke-width="2.0" stroke-linecap="butt"/>
<polygon points="499.80,144.50 503.50,150.74 496.10,150.74" fill="none" stroke="#ff00ff" stroke-width="1.3"/>
<line x1="512.45" y1="145.50" x2="512.45" y2="149.50" stroke="#ff00ff" stroke-width="2.0" stroke-linecap="butt"/>
<line x1="508.25" y1="145.50" x2="516.65" y2="145.50" stroke="#ff00ff" stroke-width="2.0" stroke-linecap="butt"/>
<line x1="508.25" y1="149.50" x2="516.65" y2="149.50" stroke="#ff00ff" stroke-width="2.0" stroke-linecap="butt"/>
<polygon points="512.45,143.60 516.16,149.84 508.75,149.84" fill="none" stroke="#ff00ff" stroke-width="1.3"/>
<line x1="525.10" y1="144.00" x2="525.10" y2="148.00" stroke="#ff00ff" stroke-width="2.0" stroke-linecap="butt"/>
<line x1="520.90" y1="144.00" x2="529.30" y2="144.00" stroke="#ff00ff" stroke-width="2.0" stroke-linecap="butt"/>
<line x1="520.90" y1="148.00" x2="529.30" y2="148.00" stroke="#ff00ff" stroke-width="2.0" stroke-linecap="butt"/>
<polygon points="525.10,142.10 528.81,148.34 521.39,148.34" fill="none" stroke="#ff00ff" stroke-width="1.3"/>
<line x1="537.75" y1="144.00" x2="537.75" y2="148.00" stroke="#ff00ff" stroke-width="2.0" stroke-linecap="butt"/>
<line x1="533.55" y1="144.00" x2="541.95" y2="144.00" stroke="#ff00ff" stroke-width="2.0" stroke-linecap="butt"/>
<line x1="533.55" y1="148.00" x2="541.95" y2="148.00" stroke="#ff00ff" stroke-width="2.0" stroke-linecap="butt"/>
<polygon points="537.75,141.90 541.46,148.14 534.04,148.14" fill="none" stroke="#ff00ff" stroke-width="1.3"/>
<line x1="550.40" y1="140.50" x2="550.40" y2="145.50" stroke="#ff00ff" stroke-width="2.0" stroke-linecap="butt"/>
<line x1="546.20" y1="140.50" x2="554.60" y2="140.50" stroke="#ff00ff" stroke-width="2.0" stroke-linecap="butt"/>
<line x1="546.20" y1="145.50" x2="554.60" y2="145.50" stroke="#ff00ff" stroke-width="2.0" stroke-linecap="butt"/>
<polygon points="550.40,138.90 554.11,145.14 546.69,145.14" fill="none" stroke="#ff00ff" stroke-width="1.3"/>
<rect x="576.70" y="21.00" width="7.20" height="7.20" fill="#ff0000"/>
<text x="590.8" y="30.0" font-size="17.4" fill="#000">Imatinib</text>
<circle cx="580.30" cy="50.20" r="3.60" fill="#ffff00"/>
<text x="590.8" y="55.2" font-size="17.4" fill="#000">Dasatinib</text>
<polygon points="580.30,71.10 584.95,78.94 575.64,78.94" fill="#00ff00"/>
<text x="590.8" y="80.7" font-size="17.4" fill="#000">Nilotinib</text>
<polygon points="580.30,98.60 584.10,102.40 580.30,106.20 576.50,102.40" fill="#00ffff"/>
<text x="590.8" y="106.6" font-size="17.4" fill="#000">Vandetanib</text>
<path d="M576.30,124.20L584.30,132.20M584.30,124.20L576.30,132.20" stroke="#8080ff" stroke-width="1.1" fill="none"/>
<text x="590.8" y="133.5" font-size="17.4" fill="#000">Sunitinib</text>
<polygon points="580.30,148.20 585.43,156.84 575.17,156.84" fill="none" stroke="#ff66ff" stroke-width="1.1"/>
<text x="590.8" y="156.9" font-size="17.4" fill="#000">Chloroquine</text>
<text x="295.1" y="251.8" font-size="17" font-weight="bold" fill="#000">d</text>
<line x1="367.90" y1="282.20" x2="367.90" y2="418.40" stroke="#555555" stroke-width="1.5" stroke-linecap="butt"/>
<line x1="359.90" y1="417.70" x2="367.90" y2="417.70" stroke="#555555" stroke-width="1.3" stroke-linecap="butt"/>
<text x="353.8" y="423.7" font-size="17.4" text-anchor="end" fill="#000">0</text>
<line x1="359.90" y1="383.82" x2="367.90" y2="383.82" stroke="#555555" stroke-width="1.3" stroke-linecap="butt"/>
<text x="353.8" y="389.825" font-size="17.4" text-anchor="end" fill="#000">50</text>
<line x1="359.90" y1="349.95" x2="367.90" y2="349.95" stroke="#555555" stroke-width="1.3" stroke-linecap="butt"/>
<text x="353.8" y="355.95" font-size="17.4" text-anchor="end" fill="#000">100</text>
<line x1="359.90" y1="316.07" x2="367.90" y2="316.07" stroke="#555555" stroke-width="1.3" stroke-linecap="butt"/>
<text x="353.8" y="322.075" font-size="17.4" text-anchor="end" fill="#000">150</text>
<line x1="359.90" y1="282.20" x2="367.90" y2="282.20" stroke="#555555" stroke-width="1.3" stroke-linecap="butt"/>
<text x="353.8" y="288.2" font-size="17.4" text-anchor="end" fill="#000">200</text>
<line x1="375.80" y1="424.50" x2="576.00" y2="424.50" stroke="#555555" stroke-width="1.5" stroke-linecap="butt"/>
<line x1="375.80" y1="424.50" x2="375.80" y2="431.60" stroke="#555555" stroke-width="1.3" stroke-linecap="butt"/>
<text x="373.0" y="449" font-size="17.4" text-anchor="middle" fill="#000">-6</text>
<line x1="425.80" y1="424.50" x2="425.80" y2="431.60" stroke="#555555" stroke-width="1.3" stroke-linecap="butt"/>
<text x="423.4" y="449" font-size="17.4" text-anchor="middle" fill="#000">-4</text>
<line x1="476.20" y1="424.50" x2="476.20" y2="431.60" stroke="#555555" stroke-width="1.3" stroke-linecap="butt"/>
<text x="474.3" y="449" font-size="17.4" text-anchor="middle" fill="#000">-2</text>
<line x1="526.00" y1="424.50" x2="526.00" y2="431.60" stroke="#555555" stroke-width="1.3" stroke-linecap="butt"/>
<text x="524.7" y="449" font-size="17.4" text-anchor="middle" fill="#000">0</text>
<line x1="576.00" y1="424.50" x2="576.00" y2="431.60" stroke="#555555" stroke-width="1.3" stroke-linecap="butt"/>
<text x="574.65" y="449" font-size="17.4" text-anchor="middle" fill="#000">2</text>
<text x="299.8" y="419.2" font-size="17.2" fill="#000" transform="rotate(-90 299.8 419.2)">percent of control</text>
<text x="320.5" y="396.1" font-size="17.2" fill="#000" transform="rotate(-90 320.5 396.1)">m/z - 826.6</text>
<text x="381.1" y="469.2" font-size="17.4" fill="#000">inhibitor conc. log10[μM]</text>
<polyline points="425.90,352.93 427.64,352.93 429.37,352.93 431.11,352.93 432.85,352.93 434.59,352.93 436.32,352.93 438.06,352.93 439.80,352.93 441.53,352.93 443.27,352.93 445.01,352.93 446.74,352.93 448.48,352.93 450.22,352.93 451.96,352.93 453.69,352.93 455.43,352.93 457.17,352.93 458.90,352.93 460.64,352.93 462.38,352.93 464.11,352.93 465.85,352.93 467.59,352.93 469.33,352.93 471.06,352.93 472.80,352.93 474.54,352.93 476.27,352.93 478.01,352.93 479.75,352.93 481.48,352.93 483.22,352.93 484.96,352.93 486.70,352.93 488.43,352.93 490.17,352.94 491.91,352.95 493.64,352.97 495.38,353.01 497.12,353.09 498.86,353.26 500.59,353.62 502.33,354.34 504.07,355.78 505.80,358.50 507.54,363.27 509.28,370.53 511.01,379.53 512.75,388.21 514.49,394.80 516.23,398.94 517.96,401.24 519.70,402.44 521.44,403.03 523.17,403.33 524.91,403.47 526.65,403.54 528.38,403.57 530.12,403.59 531.86,403.59 533.60,403.60 535.33,403.60 537.07,403.60 538.81,403.60 540.54,403.60 542.28,403.60 544.02,403.60 545.75,403.60 547.49,403.60 549.23,403.60 550.97,403.60 552.70,403.60 554.44,403.60 556.18,403.60 557.91,403.60 559.65,403.60 561.39,403.60 563.12,403.60" fill="none" stroke="#ff0000" stroke-width="2.0" stroke-linejoin="round" stroke-linecap="round"/>
<polyline points="376.00,329.56 377.58,329.56 379.16,329.56 380.74,329.56 382.32,329.56 383.90,329.56 385.47,329.56 387.05,329.56 388.63,329.56 390.21,329.57 391.79,329.57 393.37,329.57 394.95,329.57 396.53,329.58 398.11,329.59 399.69,329.60 401.27,329.61 402.84,329.63 404.42,329.65 406.00,329.69 407.58,329.74 409.16,329.81 410.74,329.90 412.32,330.03 413.90,330.21 415.48,330.46 417.06,330.79 418.64,331.25 420.22,331.87 421.79,332.71 423.37,333.84 424.95,335.32 426.53,337.26 428.11,339.74 429.69,342.84 431.27,346.60 432.85,350.99 434.43,355.90 436.01,361.15 437.59,366.46 439.16,371.59 440.74,376.29 442.32,380.41 443.90,383.88 445.48,386.70 447.06,388.93 448.64,390.66 450.22,391.98 451.80,392.97 453.38,393.70 454.96,394.25 456.53,394.65 458.11,394.94 459.69,395.15 461.27,395.31 462.85,395.42 464.43,395.50 466.01,395.56 467.59,395.61 469.17,395.64 470.75,395.66 472.33,395.68 473.91,395.69 475.48,395.70 477.06,395.70 478.64,395.71 480.22,395.71 481.80,395.71 483.38,395.72 484.96,395.72 486.54,395.72 488.12,395.72 489.70,395.72 491.28,395.72 492.85,395.72 494.43,395.72 496.01,395.72 497.59,395.72 499.17,395.72 500.75,395.72" fill="none" stroke="#ffff00" stroke-width="2.0" stroke-linejoin="round" stroke-linecap="round"/>
<polyline points="376.00,346.60 378.37,346.60 380.74,346.60 383.11,346.60 385.47,346.60 387.84,346.60 390.21,346.60 392.58,346.60 394.95,346.60 397.32,346.60 399.69,346.60 402.06,346.60 404.42,346.60 406.79,346.60 409.16,346.60 411.53,346.60 413.90,346.60 416.27,346.60 418.64,346.60 421.00,346.60 423.37,346.60 425.74,346.60 428.11,346.60 430.48,346.60 432.85,346.60 435.22,346.60 437.59,346.61 439.95,346.61 442.32,346.63 444.69,346.66 447.06,346.71 449.43,346.82 451.80,347.05 454.17,347.48 456.53,348.34 458.90,349.96 461.27,352.90 463.64,357.81 466.01,364.98 468.38,373.62 470.75,381.93 473.12,388.35 475.48,392.53 477.85,394.94 480.22,396.25 482.59,396.93 484.96,397.28 487.33,397.45 489.70,397.54 492.06,397.59 494.43,397.61 496.80,397.62 499.17,397.62 501.54,397.63 503.91,397.63 506.28,397.63 508.65,397.63 511.01,397.63 513.38,397.63 515.75,397.63 518.12,397.63 520.49,397.63 522.86,397.63 525.23,397.63 527.59,397.63 529.96,397.63 532.33,397.63 534.70,397.63 537.07,397.63 539.44,397.63 541.81,397.63 544.18,397.63 546.54,397.63 548.91,397.63 551.28,397.63 553.65,397.63 556.02,397.63 558.39,397.63 560.76,397.63 563.12,397.63" fill="none" stroke="#00ff00" stroke-width="2.0" stroke-linejoin="round" stroke-linecap="round"/>
<polyline points="425.90,347.90 427.64,347.90 429.37,347.90 431.11,347.90 432.85,347.90 434.59,347.90 436.32,347.90 438.06,347.90 439.80,347.90 441.53,347.90 443.27,347.90 445.01,347.90 446.74,347.90 448.48,347.90 450.22,347.90 451.96,347.90 453.69,347.90 455.43,347.90 457.17,347.90 458.90,347.91 460.64,347.91 462.38,347.91 464.11,347.91 465.85,347.91 467.59,347.92 469.33,347.92 471.06,347.93 472.80,347.93 474.54,347.94 476.27,347.95 478.01,347.97 479.75,347.98 481.48,348.00 483.22,348.03 484.96,348.06 486.70,348.10 488.43,348.15 490.17,348.21 491.91,348.29 493.64,348.39 495.38,348.50 497.12,348.65 498.86,348.83 500.59,349.06 502.33,349.33 504.07,349.68 505.80,350.10 507.54,350.61 509.28,351.24 511.01,352.01 512.75,352.93 514.49,354.04 516.23,355.35 517.96,356.90 519.70,358.70 521.44,360.76 523.17,363.09 524.91,365.67 526.65,368.48 528.38,371.47 530.12,374.57 531.86,377.72 533.60,380.85 535.33,383.87 537.07,386.73 538.81,389.37 540.54,391.77 542.28,393.91 544.02,395.78 545.75,397.39 547.49,398.76 549.23,399.92 550.97,400.89 552.70,401.70 554.44,402.36 556.18,402.90 557.91,403.35 559.65,403.71 561.39,404.00 563.12,404.24" fill="none" stroke="#00ffff" stroke-width="2.0" stroke-linejoin="round" stroke-linecap="round"/>
<line x1="425.86" y1="350.90" x2="425.86" y2="364.40" stroke="#ff0000" stroke-width="2.0" stroke-linecap="butt"/>
<line x1="421.66" y1="350.90" x2="430.06" y2="350.90" stroke="#ff0000" stroke-width="2.0" stroke-linecap="butt"/>
<line x1="421.66" y1="364.40" x2="430.06" y2="364.40" stroke="#ff0000" stroke-width="2.0" stroke-linecap="butt"/>
<rect x="422.96" y="356.30" width="5.80" height="5.80" fill="#ff0000"/>
<line x1="450.89" y1="336.10" x2="450.89" y2="361.50" stroke="#ff0000" stroke-width="2.0" stroke-linecap="butt"/>
<line x1="446.69" y1="336.10" x2="455.09" y2="336.10" stroke="#ff0000" stroke-width="2.0" stroke-linecap="butt"/>
<line x1="446.69" y1="361.50" x2="455.09" y2="361.50" stroke="#ff0000" stroke-width="2.0" stroke-linecap="butt"/>
<rect x="447.99" y="343.60" width="5.80" height="5.80" fill="#ff0000"/>
<line x1="463.41" y1="358.00" x2="463.41" y2="368.40" stroke="#ff0000" stroke-width="2.0" stroke-linecap="butt"/>
<line x1="459.21" y1="358.00" x2="467.61" y2="358.00" stroke="#ff0000" stroke-width="2.0" stroke-linecap="butt"/>
<line x1="459.21" y1="368.40" x2="467.61" y2="368.40" stroke="#ff0000" stroke-width="2.0" stroke-linecap="butt"/>
<rect x="460.51" y="358.60" width="5.80" height="5.80" fill="#ff0000"/>
<line x1="475.92" y1="347.10" x2="475.92" y2="363.80" stroke="#ff0000" stroke-width="2.0" stroke-linecap="butt"/>
<line x1="471.72" y1="347.10" x2="480.12" y2="347.10" stroke="#ff0000" stroke-width="2.0" stroke-linecap="butt"/>
<line x1="471.72" y1="363.80" x2="480.12" y2="363.80" stroke="#ff0000" stroke-width="2.0" stroke-linecap="butt"/>
<rect x="473.02" y="352.10" width="5.80" height="5.80" fill="#ff0000"/>
<line x1="488.44" y1="331.50" x2="488.44" y2="350.00" stroke="#ff0000" stroke-width="2.0" stroke-linecap="butt"/>
<line x1="484.24" y1="331.50" x2="492.63" y2="331.50" stroke="#ff0000" stroke-width="2.0" stroke-linecap="butt"/>
<line x1="484.24" y1="350.00" x2="492.63" y2="350.00" stroke="#ff0000" stroke-width="2.0" stroke-linecap="butt"/>
<rect x="485.54" y="342.10" width="5.80" height="5.80" fill="#ff0000"/>
<line x1="500.95" y1="352.00" x2="500.95" y2="360.00" stroke="#ff0000" stroke-width="2.0" stroke-linecap="butt"/>
<line x1="496.75" y1="352.00" x2="505.15" y2="352.00" stroke="#ff0000" stroke-width="2.0" stroke-linecap="butt"/>
<line x1="496.75" y1="360.00" x2="505.15" y2="360.00" stroke="#ff0000" stroke-width="2.0" stroke-linecap="butt"/>
<rect x="498.05" y="353.40" width="5.80" height="5.80" fill="#ff0000"/>
<line x1="513.47" y1="381.70" x2="513.47" y2="391.80" stroke="#ff0000" stroke-width="2.0" stroke-linecap="butt"/>
<line x1="509.27" y1="381.70" x2="517.67" y2="381.70" stroke="#ff0000" stroke-width="2.0" stroke-linecap="butt"/>
<line x1="509.27" y1="391.80" x2="517.67" y2="391.80" stroke="#ff0000" stroke-width="2.0" stroke-linecap="butt"/>
<rect x="510.57" y="383.80" width="5.80" height="5.80" fill="#ff0000"/>
<line x1="525.98" y1="396.00" x2="525.98" y2="402.00" stroke="#ff0000" stroke-width="2.0" stroke-linecap="butt"/>
<line x1="521.78" y1="396.00" x2="530.18" y2="396.00" stroke="#ff0000" stroke-width="2.0" stroke-linecap="butt"/>
<line x1="521.78" y1="402.00" x2="530.18" y2="402.00" stroke="#ff0000" stroke-width="2.0" stroke-linecap="butt"/>
<rect x="523.08" y="396.40" width="5.80" height="5.80" fill="#ff0000"/>
<line x1="538.50" y1="397.40" x2="538.50" y2="403.00" stroke="#ff0000" stroke-width="2.0" stroke-linecap="butt"/>
<line x1="534.29" y1="397.40" x2="542.70" y2="397.40" stroke="#ff0000" stroke-width="2.0" stroke-linecap="butt"/>
<line x1="534.29" y1="403.00" x2="542.70" y2="403.00" stroke="#ff0000" stroke-width="2.0" stroke-linecap="butt"/>
<rect x="535.60" y="397.30" width="5.80" height="5.80" fill="#ff0000"/>
<line x1="551.01" y1="395.00" x2="551.01" y2="405.00" stroke="#ff0000" stroke-width="2.0" stroke-linecap="butt"/>
<line x1="546.81" y1="395.00" x2="555.21" y2="395.00" stroke="#ff0000" stroke-width="2.0" stroke-linecap="butt"/>
<line x1="546.81" y1="405.00" x2="555.21" y2="405.00" stroke="#ff0000" stroke-width="2.0" stroke-linecap="butt"/>
<rect x="548.11" y="398.90" width="5.80" height="5.80" fill="#ff0000"/>
<line x1="563.53" y1="407.00" x2="563.53" y2="411.50" stroke="#ff0000" stroke-width="2.0" stroke-linecap="butt"/>
<line x1="559.33" y1="407.00" x2="567.73" y2="407.00" stroke="#ff0000" stroke-width="2.0" stroke-linecap="butt"/>
<line x1="559.33" y1="411.50" x2="567.73" y2="411.50" stroke="#ff0000" stroke-width="2.0" stroke-linecap="butt"/>
<rect x="560.63" y="406.50" width="5.80" height="5.80" fill="#ff0000"/>
<line x1="375.80" y1="324.70" x2="375.80" y2="344.60" stroke="#ffff00" stroke-width="2.0" stroke-linecap="butt"/>
<line x1="371.60" y1="324.70" x2="380.00" y2="324.70" stroke="#ffff00" stroke-width="2.0" stroke-linecap="butt"/>
<line x1="371.60" y1="344.60" x2="380.00" y2="344.60" stroke="#ffff00" stroke-width="2.0" stroke-linecap="butt"/>
<circle cx="375.80" cy="335.10" r="2.80" fill="#ffff00"/>
<line x1="400.83" y1="315.00" x2="400.83" y2="338.10" stroke="#ffff00" stroke-width="2.0" stroke-linecap="butt"/>
<line x1="396.63" y1="315.00" x2="405.03" y2="315.00" stroke="#ffff00" stroke-width="2.0" stroke-linecap="butt"/>
<line x1="396.63" y1="338.10" x2="405.03" y2="338.10" stroke="#ffff00" stroke-width="2.0" stroke-linecap="butt"/>
<circle cx="400.83" cy="327.00" r="2.80" fill="#ffff00"/>
<line x1="413.35" y1="316.80" x2="413.35" y2="344.40" stroke="#ffff00" stroke-width="2.0" stroke-linecap="butt"/>
<line x1="409.15" y1="316.80" x2="417.55" y2="316.80" stroke="#ffff00" stroke-width="2.0" stroke-linecap="butt"/>
<line x1="409.15" y1="344.40" x2="417.55" y2="344.40" stroke="#ffff00" stroke-width="2.0" stroke-linecap="butt"/>
<circle cx="413.35" cy="330.40" r="2.80" fill="#ffff00"/>
<line x1="425.86" y1="328.60" x2="425.86" y2="347.70" stroke="#ffff00" stroke-width="2.0" stroke-linecap="butt"/>
<line x1="421.66" y1="328.60" x2="430.06" y2="328.60" stroke="#ffff00" stroke-width="2.0" stroke-linecap="butt"/>
<line x1="421.66" y1="347.70" x2="430.06" y2="347.70" stroke="#ffff00" stroke-width="2.0" stroke-linecap="butt"/>
<circle cx="425.86" cy="339.00" r="2.80" fill="#ffff00"/>
<line x1="438.38" y1="351.50" x2="438.38" y2="386.70" stroke="#ffff00" stroke-width="2.0" stroke-linecap="butt"/>
<line x1="434.18" y1="351.50" x2="442.57" y2="351.50" stroke="#ffff00" stroke-width="2.0" stroke-linecap="butt"/>
<line x1="434.18" y1="386.70" x2="442.57" y2="386.70" stroke="#ffff00" stroke-width="2.0" stroke-linecap="butt"/>
<circle cx="438.38" cy="367.30" r="2.80" fill="#ffff00"/>
<line x1="450.89" y1="388.50" x2="450.89" y2="394.70" stroke="#ffff00" stroke-width="2.0" stroke-linecap="butt"/>
<line x1="446.69" y1="388.50" x2="455.09" y2="388.50" stroke="#ffff00" stroke-width="2.0" stroke-linecap="butt"/>
<line x1="446.69" y1="394.70" x2="455.09" y2="394.70" stroke="#ffff00" stroke-width="2.0" stroke-linecap="butt"/>
<circle cx="450.89" cy="392.40" r="2.80" fill="#ffff00"/>
<line x1="463.41" y1="394.20" x2="463.41" y2="401.60" stroke="#ffff00" stroke-width="2.0" stroke-linecap="butt"/>
<line x1="459.21" y1="394.20" x2="467.61" y2="394.20" stroke="#ffff00" stroke-width="2.0" stroke-linecap="butt"/>
<line x1="459.21" y1="401.60" x2="467.61" y2="401.60" stroke="#ffff00" stroke-width="2.0" stroke-linecap="butt"/>
<circle cx="463.41" cy="397.70" r="2.80" fill="#ffff00"/>
<line x1="475.92" y1="394.00" x2="475.92" y2="399.50" stroke="#ffff00" stroke-width="2.0" stroke-linecap="butt"/>
<line x1="471.72" y1="394.00" x2="480.12" y2="394.00" stroke="#ffff00" stroke-width="2.0" stroke-linecap="butt"/>
<line x1="471.72" y1="399.50" x2="480.12" y2="399.50" stroke="#ffff00" stroke-width="2.0" stroke-linecap="butt"/>
<circle cx="475.92" cy="397.20" r="2.80" fill="#ffff00"/>
<line x1="488.44" y1="386.30" x2="488.44" y2="395.00" stroke="#ffff00" stroke-width="2.0" stroke-linecap="butt"/>
<line x1="484.24" y1="386.30" x2="492.63" y2="386.30" stroke="#ffff00" stroke-width="2.0" stroke-linecap="butt"/>
<line x1="484.24" y1="395.00" x2="492.63" y2="395.00" stroke="#ffff00" stroke-width="2.0" stroke-linecap="butt"/>
<circle cx="488.44" cy="391.00" r="2.80" fill="#ffff00"/>
<line x1="500.95" y1="386.30" x2="500.95" y2="395.00" stroke="#ffff00" stroke-width="2.0" stroke-linecap="butt"/>
<line x1="496.75" y1="386.30" x2="505.15" y2="386.30" stroke="#ffff00" stroke-width="2.0" stroke-linecap="butt"/>
<line x1="496.75" y1="395.00" x2="505.15" y2="395.00" stroke="#ffff00" stroke-width="2.0" stroke-linecap="butt"/>
<circle cx="500.95" cy="391.00" r="2.80" fill="#ffff00"/>
<line x1="375.80" y1="342.00" x2="375.80" y2="355.10" stroke="#00ff00" stroke-width="2.0" stroke-linecap="butt"/>
<line x1="371.60" y1="342.00" x2="380.00" y2="342.00" stroke="#00ff00" stroke-width="2.0" stroke-linecap="butt"/>
<line x1="371.60" y1="355.10" x2="380.00" y2="355.10" stroke="#00ff00" stroke-width="2.0" stroke-linecap="butt"/>
<polygon points="375.80,344.10 379.69,350.66 371.91,350.66" fill="#00ff00"/>
<line x1="400.83" y1="343.70" x2="400.83" y2="352.80" stroke="#00ff00" stroke-width="2.0" stroke-linecap="butt"/>
<line x1="396.63" y1="343.70" x2="405.03" y2="343.70" stroke="#00ff00" stroke-width="2.0" stroke-linecap="butt"/>
<line x1="396.63" y1="352.80" x2="405.03" y2="352.80" stroke="#00ff00" stroke-width="2.0" stroke-linecap="butt"/>
<polygon points="400.83,343.90 404.73,350.46 396.94,350.46" fill="#00ff00"/>
<line x1="425.86" y1="335.60" x2="425.86" y2="356.90" stroke="#00ff00" stroke-width="2.0" stroke-linecap="butt"/>
<line x1="421.66" y1="335.60" x2="430.06" y2="335.60" stroke="#00ff00" stroke-width="2.0" stroke-linecap="butt"/>
<line x1="421.66" y1="356.90" x2="430.06" y2="356.90" stroke="#00ff00" stroke-width="2.0" stroke-linecap="butt"/>
<polygon points="425.86,341.90 429.75,348.46 421.97,348.46" fill="#00ff00"/>
<line x1="438.38" y1="350.20" x2="438.38" y2="362.70" stroke="#00ff00" stroke-width="2.0" stroke-linecap="butt"/>
<line x1="434.18" y1="350.20" x2="442.57" y2="350.20" stroke="#00ff00" stroke-width="2.0" stroke-linecap="butt"/>
<line x1="434.18" y1="362.70" x2="442.57" y2="362.70" stroke="#00ff00" stroke-width="2.0" stroke-linecap="butt"/>
<polygon points="438.38,351.10 442.27,357.66 434.48,357.66" fill="#00ff00"/>
<line x1="450.89" y1="324.60" x2="450.89" y2="358.00" stroke="#00ff00" stroke-width="2.0" stroke-linecap="butt"/>
<line x1="446.69" y1="324.60" x2="455.09" y2="324.60" stroke="#00ff00" stroke-width="2.0" stroke-linecap="butt"/>
<line x1="446.69" y1="358.00" x2="455.09" y2="358.00" stroke="#00ff00" stroke-width="2.0" stroke-linecap="butt"/>
<polygon points="450.89,338.90 454.78,345.46 447.00,345.46" fill="#00ff00"/>
<line x1="463.41" y1="355.00" x2="463.41" y2="365.00" stroke="#00ff00" stroke-width="2.0" stroke-linecap="butt"/>
<line x1="459.21" y1="355.00" x2="467.61" y2="355.00" stroke="#00ff00" stroke-width="2.0" stroke-linecap="butt"/>
<line x1="459.21" y1="365.00" x2="467.61" y2="365.00" stroke="#00ff00" stroke-width="2.0" stroke-linecap="butt"/>
<polygon points="463.41,355.90 467.30,362.46 459.51,362.46" fill="#00ff00"/>
<line x1="475.92" y1="385.50" x2="475.92" y2="393.00" stroke="#00ff00" stroke-width="2.0" stroke-linecap="butt"/>
<line x1="471.72" y1="385.50" x2="480.12" y2="385.50" stroke="#00ff00" stroke-width="2.0" stroke-linecap="butt"/>
<line x1="471.72" y1="393.00" x2="480.12" y2="393.00" stroke="#00ff00" stroke-width="2.0" stroke-linecap="butt"/>
<polygon points="475.92,385.20 479.81,391.76 472.03,391.76" fill="#00ff00"/>
<line x1="488.44" y1="389.00" x2="488.44" y2="397.00" stroke="#00ff00" stroke-width="2.0" stroke-linecap="butt"/>
<line x1="484.24" y1="389.00" x2="492.63" y2="389.00" stroke="#00ff00" stroke-width="2.0" stroke-linecap="butt"/>
<line x1="484.24" y1="397.00" x2="492.63" y2="397.00" stroke="#00ff00" stroke-width="2.0" stroke-linecap="butt"/>
<polygon points="488.44,388.90 492.33,395.46 484.54,395.46" fill="#00ff00"/>
<line x1="500.95" y1="383.00" x2="500.95" y2="399.30" stroke="#00ff00" stroke-width="2.0" stroke-linecap="butt"/>
<line x1="496.75" y1="383.00" x2="505.15" y2="383.00" stroke="#00ff00" stroke-width="2.0" stroke-linecap="butt"/>
<line x1="496.75" y1="399.30" x2="505.15" y2="399.30" stroke="#00ff00" stroke-width="2.0" stroke-linecap="butt"/>
<polygon points="500.95,385.20 504.85,391.76 497.06,391.76" fill="#00ff00"/>
<line x1="525.98" y1="387.50" x2="525.98" y2="400.60" stroke="#00ff00" stroke-width="2.0" stroke-linecap="butt"/>
<line x1="521.78" y1="387.50" x2="530.18" y2="387.50" stroke="#00ff00" stroke-width="2.0" stroke-linecap="butt"/>
<line x1="521.78" y1="400.60" x2="530.18" y2="400.60" stroke="#00ff00" stroke-width="2.0" stroke-linecap="butt"/>
<polygon points="525.98,388.40 529.88,394.96 522.09,394.96" fill="#00ff00"/>
<line x1="551.01" y1="396.80" x2="551.01" y2="408.10" stroke="#00ff00" stroke-width="2.0" stroke-linecap="butt"/>
<line x1="546.81" y1="396.80" x2="555.21" y2="396.80" stroke="#00ff00" stroke-width="2.0" stroke-linecap="butt"/>
<line x1="546.81" y1="408.10" x2="555.21" y2="408.10" stroke="#00ff00" stroke-width="2.0" stroke-linecap="butt"/>
<polygon points="551.01,396.50 554.90,403.06 547.12,403.06" fill="#00ff00"/>
<line x1="425.86" y1="338.40" x2="425.86" y2="346.00" stroke="#00ffff" stroke-width="2.0" stroke-linecap="butt"/>
<line x1="421.66" y1="338.40" x2="430.06" y2="338.40" stroke="#00ffff" stroke-width="2.0" stroke-linecap="butt"/>
<line x1="421.66" y1="346.00" x2="430.06" y2="346.00" stroke="#00ffff" stroke-width="2.0" stroke-linecap="butt"/>
<polygon points="425.86,339.10 429.26,342.50 425.86,345.90 422.46,342.50" fill="#00ffff"/>
<line x1="450.89" y1="341.90" x2="450.89" y2="345.40" stroke="#00ffff" stroke-width="2.0" stroke-linecap="butt"/>
<line x1="446.69" y1="341.90" x2="455.09" y2="341.90" stroke="#00ffff" stroke-width="2.0" stroke-linecap="butt"/>
<line x1="446.69" y1="345.40" x2="455.09" y2="345.40" stroke="#00ffff" stroke-width="2.0" stroke-linecap="butt"/>
<polygon points="450.89,340.20 454.29,343.60 450.89,347.00 447.49,343.60" fill="#00ffff"/>
<line x1="463.41" y1="348.20" x2="463.41" y2="357.50" stroke="#00ffff" stroke-width="2.0" stroke-linecap="butt"/>
<line x1="459.21" y1="348.20" x2="467.61" y2="348.20" stroke="#00ffff" stroke-width="2.0" stroke-linecap="butt"/>
<line x1="459.21" y1="357.50" x2="467.61" y2="357.50" stroke="#00ffff" stroke-width="2.0" stroke-linecap="butt"/>
<polygon points="463.41,350.00 466.81,353.40 463.41,356.80 460.01,353.40" fill="#00ffff"/>
<line x1="475.92" y1="347.10" x2="475.92" y2="366.70" stroke="#00ffff" stroke-width="2.0" stroke-linecap="butt"/>
<line x1="471.72" y1="347.10" x2="480.12" y2="347.10" stroke="#00ffff" stroke-width="2.0" stroke-linecap="butt"/>
<line x1="471.72" y1="366.70" x2="480.12" y2="366.70" stroke="#00ffff" stroke-width="2.0" stroke-linecap="butt"/>
<polygon points="475.92,353.50 479.32,356.90 475.92,360.30 472.52,356.90" fill="#00ffff"/>
<line x1="488.44" y1="350.00" x2="488.44" y2="365.00" stroke="#00ffff" stroke-width="2.0" stroke-linecap="butt"/>
<line x1="484.24" y1="350.00" x2="492.63" y2="350.00" stroke="#00ffff" stroke-width="2.0" stroke-linecap="butt"/>
<line x1="484.24" y1="365.00" x2="492.63" y2="365.00" stroke="#00ffff" stroke-width="2.0" stroke-linecap="butt"/>
<polygon points="488.44,354.10 491.83,357.50 488.44,360.90 485.04,357.50" fill="#00ffff"/>
<line x1="500.95" y1="346.00" x2="500.95" y2="354.00" stroke="#00ffff" stroke-width="2.0" stroke-linecap="butt"/>
<line x1="496.75" y1="346.00" x2="505.15" y2="346.00" stroke="#00ffff" stroke-width="2.0" stroke-linecap="butt"/>
<line x1="496.75" y1="354.00" x2="505.15" y2="354.00" stroke="#00ffff" stroke-width="2.0" stroke-linecap="butt"/>
<polygon points="500.95,347.70 504.35,351.10 500.95,354.50 497.55,351.10" fill="#00ffff"/>
<line x1="513.47" y1="351.00" x2="513.47" y2="357.00" stroke="#00ffff" stroke-width="2.0" stroke-linecap="butt"/>
<line x1="509.27" y1="351.00" x2="517.67" y2="351.00" stroke="#00ffff" stroke-width="2.0" stroke-linecap="butt"/>
<line x1="509.27" y1="357.00" x2="517.67" y2="357.00" stroke="#00ffff" stroke-width="2.0" stroke-linecap="butt"/>
<polygon points="513.47,350.60 516.87,354.00 513.47,357.40 510.07,354.00" fill="#00ffff"/>
<line x1="525.98" y1="363.00" x2="525.98" y2="372.00" stroke="#00ffff" stroke-width="2.0" stroke-linecap="butt"/>
<line x1="521.78" y1="363.00" x2="530.18" y2="363.00" stroke="#00ffff" stroke-width="2.0" stroke-linecap="butt"/>
<line x1="521.78" y1="372.00" x2="530.18" y2="372.00" stroke="#00ffff" stroke-width="2.0" stroke-linecap="butt"/>
<polygon points="525.98,364.00 529.38,367.40 525.98,370.80 522.58,367.40" fill="#00ffff"/>
<line x1="538.50" y1="378.00" x2="538.50" y2="388.90" stroke="#00ffff" stroke-width="2.0" stroke-linecap="butt"/>
<line x1="534.29" y1="378.00" x2="542.70" y2="378.00" stroke="#00ffff" stroke-width="2.0" stroke-linecap="butt"/>
<line x1="534.29" y1="388.90" x2="542.70" y2="388.90" stroke="#00ffff" stroke-width="2.0" stroke-linecap="butt"/>
<polygon points="538.50,379.60 541.89,383.00 538.50,386.40 535.10,383.00" fill="#00ffff"/>
<line x1="551.01" y1="397.00" x2="551.01" y2="405.00" stroke="#00ffff" stroke-width="2.0" stroke-linecap="butt"/>
<line x1="546.81" y1="397.00" x2="555.21" y2="397.00" stroke="#00ffff" stroke-width="2.0" stroke-linecap="butt"/>
<line x1="546.81" y1="405.00" x2="555.21" y2="405.00" stroke="#00ffff" stroke-width="2.0" stroke-linecap="butt"/>
<polygon points="551.01,397.70 554.41,401.10 551.01,404.50 547.61,401.10" fill="#00ffff"/>
<line x1="563.53" y1="402.00" x2="563.53" y2="406.30" stroke="#00ffff" stroke-width="2.0" stroke-linecap="butt"/>
<line x1="559.33" y1="402.00" x2="567.73" y2="402.00" stroke="#00ffff" stroke-width="2.0" stroke-linecap="butt"/>
<line x1="559.33" y1="406.30" x2="567.73" y2="406.30" stroke="#00ffff" stroke-width="2.0" stroke-linecap="butt"/>
<polygon points="563.53,401.00 566.93,404.40 563.53,407.80 560.13,404.40" fill="#00ffff"/>
<rect x="576.60" y="308.80" width="7.20" height="7.20" fill="#ff0000"/>
<text x="591.0" y="316.9" font-size="17.4" fill="#000">Imatinib</text>
<circle cx="580.20" cy="337.90" r="3.60" fill="#ffff00"/>
<text x="591.0" y="342.7" font-size="17.4" fill="#000">Dasatinib</text>
<polygon points="580.20,358.70 584.86,366.54 575.55,366.54" fill="#00ff00"/>
<text x="591.0" y="368.4" font-size="17.4" fill="#000">Nilotinib</text>
<polygon points="580.20,385.80 584.00,389.60 580.20,393.40 576.40,389.60" fill="#00ffff"/>
<text x="591.0" y="393.7" font-size="17.4" fill="#000">Vandetanib</text>
</svg></body></html>
